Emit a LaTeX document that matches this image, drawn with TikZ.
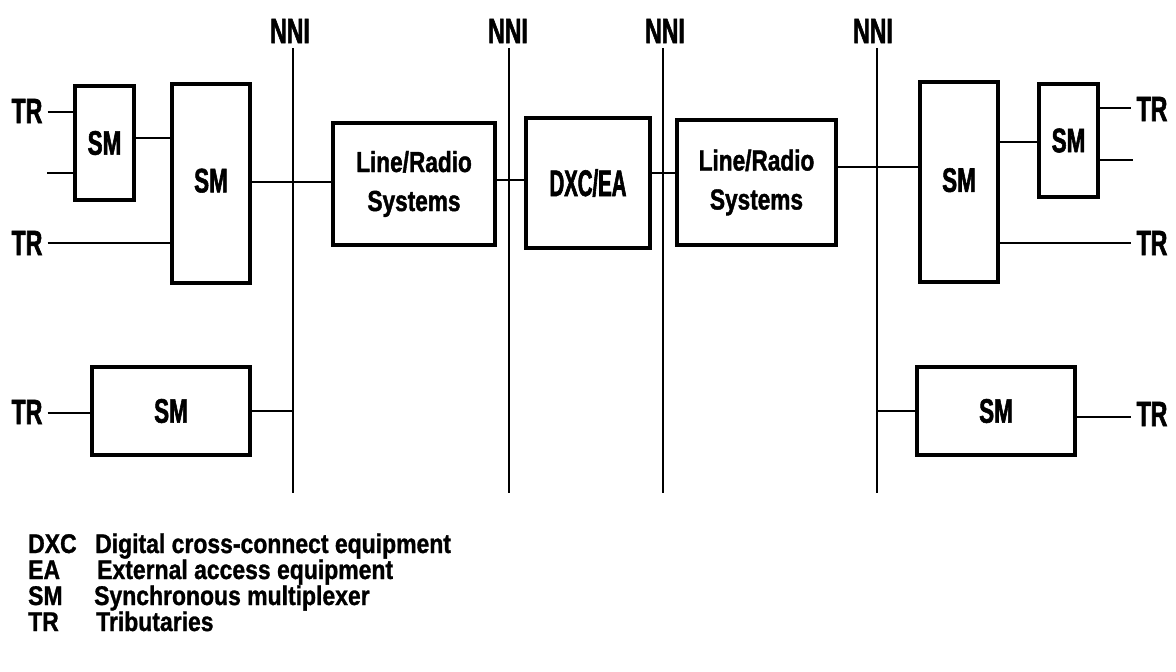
\documentclass[tikz,border=0pt]{standalone}
\usepackage{fontspec}
\setmainfont{Liberation Sans}
\newfontfamily\condA{Liberation Sans}[FakeStretch=0.66, BoldFeatures={FakeBold=1.6}]
\newfontfamily\condB{Liberation Sans}[FakeStretch=0.78, BoldFeatures={FakeBold=1.4}]
\newfontfamily\condC{Liberation Sans}[FakeStretch=0.55, BoldFeatures={FakeBold=1.6}]
\newfontfamily\condD{Liberation Sans}[FakeStretch=0.85, BoldFeatures={FakeBold=1.1}]
\tikzset{
  box/.style={draw, line width=3.3pt, inner sep=0pt, align=center,
    font=\condA\bfseries\fontsize{34}{34}\selectfont},
  lrbox/.style={box, font=\condB\bfseries\fontsize{29}{39}\selectfont},
  dxbox/.style={box, font=\condC\bfseries\fontsize{37}{37}\selectfont},
  conn/.style={line width=1.9pt},
  bus/.style={line width=1.6pt},
  trlbl/.style={inner sep=0pt, inner xsep=5pt, font=\condA\bfseries\fontsize{35}{35}\selectfont},
  nnilbl/.style={inner sep=2pt, font=\condA\bfseries\fontsize{35}{35}\selectfont},
  leg/.style={inner sep=0pt, anchor=base west, font=\condD\bfseries\fontsize{27}{27}\selectfont}
}
\begin{document}
\begin{tikzpicture}[x=1pt,y=-1pt]
\useasboundingbox (0,0) rectangle (1176,672);

% NNI labels and buses
\node[nnilbl] (nni1) at (290,31) {NNI};
\node[nnilbl] (nni2) at (508,31) {NNI};
\node[nnilbl] (nni3) at (665,31) {NNI};
\node[nnilbl] (nni4) at (873,31) {NNI};
\coordinate (b1) at (293,493);
\coordinate (b2) at (509,493);
\coordinate (b3) at (663,493);
\coordinate (b4) at (877,493);
\draw[bus] (b1 |- 0,48) -- (b1);
\draw[bus] (b2 |- 0,48) -- (b2);
\draw[bus] (b3 |- 0,48) -- (b3);
\draw[bus] (b4 |- 0,48) -- (b4);

% boxes
\node[box, minimum width=59pt, minimum height=114pt] (smA) at (104.5,143) {SM};
\node[box, minimum width=78pt, minimum height=199pt] (smB) at (211,183.5) {\raisebox{6pt}{SM}};
\node[box, minimum width=158pt, minimum height=88pt] (smC) at (171,411) {SM};
\node[lrbox, minimum width=162pt, minimum height=122pt] (lr1) at (414,184) {Line/Radio\\Systems};
\node[dxbox, minimum width=124pt, minimum height=130pt] (dxc) at (588,183) {DXC/EA};
\node[lrbox, minimum width=159pt, minimum height=125pt] (lr2) at (756.5,182.5) {Line/Radio\\Systems};
\node[box, minimum width=78pt, minimum height=200pt] (smD) at (959,182) {\raisebox{4pt}{SM}};
\node[box, minimum width=59pt, minimum height=113pt] (smE) at (1068.5,140.5) {SM};
\node[box, minimum width=158pt, minimum height=88pt] (smF) at (996,411) {SM};

% TR labels
\node[trlbl] (tr1) at (27,111) {TR};
\node[trlbl] (tr2) at (27,243) {TR};
\node[trlbl] (tr5) at (27,412) {TR};
\node[trlbl] (tr3) at (1152,109) {TR};
\node[trlbl] (tr4) at (1152,243) {TR};
\node[trlbl] (tr6) at (1152,414) {TR};

% connector levels
\coordinate (y112) at (0,112);
\coordinate (y173) at (47,173);
\coordinate (y138) at (0,138);
\coordinate (y243) at (0,243);
\coordinate (y182) at (0,182);
\coordinate (y180) at (0,180);
\coordinate (y173b) at (0,173);
\coordinate (y167) at (0,167);
\coordinate (y142) at (0,142);
\coordinate (y108) at (0,108);
\coordinate (y160) at (1133,160);
\coordinate (y413) at (0,413);
\coordinate (y411) at (0,411);
\coordinate (y417) at (0,417);

% left side
\draw[conn] (y112 -| tr1.east) -- (y112 -| smA.west);
\draw[conn] (y173) -- (y173 -| smA.west);
\draw[conn] (y138 -| smA.east) -- (y138 -| smB.west);
\draw[conn] (y243 -| tr2.east) -- (y243 -| smB.west);
\draw[conn] (y182 -| smB.east) -- (y182 -| lr1.west);
\draw[conn] (y413 -| tr5.east) -- (y413 -| smC.west);
\draw[conn] (y411 -| smC.east) -- (y411 -| b1);

% middle
\draw[conn] (y180 -| lr1.east) -- (y180 -| dxc.west);
\draw[conn] (y173b -| dxc.east) -- (y173b -| lr2.west);
\draw[conn] (y167 -| lr2.east) -- (y167 -| smD.west);

% right side
\draw[conn] (y142 -| smD.east) -- (y142 -| smE.west);
\draw[conn] (y108 -| smE.east) -- (y108 -| tr3.west);
\draw[conn] (y160 -| smE.east) -- (y160);
\draw[conn] (y243 -| smD.east) -- (y243 -| tr4.west);
\draw[conn] (y411 -| b4) -- (y411 -| smF.west);
\draw[conn] (y417 -| smF.east) -- (y417 -| tr6.west);

% legend
\node[leg] (k1) at (28,553) {DXC};
\node[leg] (d1) at (95,553) {Digital cross-connect equipment};
\node[leg] (k2) at (28,579) {EA};
\node[leg] (d2) at (97,579) {External access equipment};
\node[leg] (k3) at (28,605) {SM};
\node[leg] (d3) at (94,605) {Synchronous multiplexer};
\node[leg] (k4) at (28,631) {TR};
\node[leg] (d4) at (96,631) {Tributaries};
\end{tikzpicture}
\end{document}
